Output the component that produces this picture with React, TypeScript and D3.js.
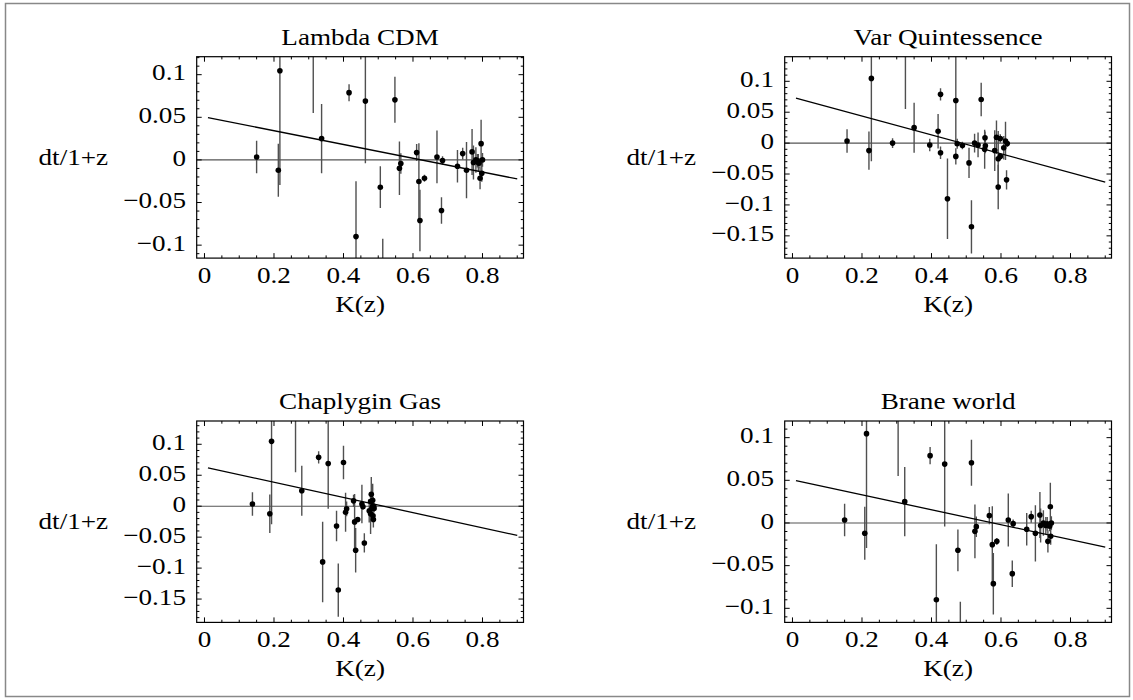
import React from 'react';
import * as d3 from 'd3';

// Panel titles, in reading order
const modelNames = ['Lambda CDM', 'Var Quintessence', 'Chaplygin Gas', 'Brane world'];

// dt/(1+z) measurements and their errors (shared by all four models)
const dtValues = [
  0.0035, -0.0121, 0.1047, 0.16, 0.025, 0.0789, -0.09, 0.069, -0.032, -0.1354,
  0.0705, -0.0098, -0.0043, 0.0086, -0.0254, -0.0711, -0.0215, 0.0035, -0.0008, -0.0594,
  -0.0074, 0.0074, -0.0121, 0.0094, -0.003, 0.0, -0.003, -0.0215, 0.0191, -0.0156,
  0.0, -0.0038, -0.001,
];
const dtErrors = [
  0.019, 0.031, 0.134, 0.105, 0.0405, 0.01, 0.065, 0.073, 0.0245, 0.043,
  0.027, 0.0315, 0.012, 0.01, 0.045, 0.036, 0.004, 0.031, 0.005, 0.0155,
  0.019, 0.007, 0.033, 0.027, 0.02, 0.015, 0.01, 0.013, 0.028, 0.01,
  0.008, 0.006, 0.008,
];

// K(z) of every point for each model
const kLambda = [
  0.15, 0.2125, 0.217, 0.313, 0.337, 0.416, 0.436, 0.463, 0.506, 0.513,
  0.548, 0.561, 0.565, 0.6105, 0.617, 0.62, 0.633, 0.669, 0.685, 0.682,
  0.728, 0.743, 0.754, 0.77, 0.774, 0.781, 0.788, 0.793, 0.796, 0.798,
  0.8, 0.79, 0.785,
];
const kQuint = [
  0.157, 0.22, 0.227, 0.325, 0.35, 0.426, 0.446, 0.47, 0.508, 0.515,
  0.543, 0.553, 0.555, 0.554, 0.592, 0.592, 0.598, 0.613, 0.618, 0.616,
  0.608, 0.598, 0.582, 0.587, 0.534, 0.524, 0.395, 0.47, 0.419, 0.426,
  0.288, 0.489, 0.474,
];
const kChaplygin = [
  0.138, 0.188, 0.193, 0.262, 0.28, 0.3285, 0.34, 0.356, 0.38, 0.385,
  0.4, 0.406, 0.409, 0.429, 0.432, 0.435, 0.441, 0.453, 0.456, 0.46,
  0.474, 0.478, 0.478, 0.484, 0.482, 0.485, 0.486, 0.486, 0.48, 0.485,
  0.487, 0.488, 0.484,
];
const kBrane = [
  0.15, 0.208, 0.213, 0.304, 0.323, 0.396, 0.414, 0.438, 0.476, 0.483,
  0.515, 0.525, 0.529, 0.5665, 0.575, 0.578, 0.588, 0.621, 0.635, 0.6325,
  0.674, 0.687, 0.699, 0.712, 0.714, 0.722, 0.729, 0.735, 0.742, 0.743,
  0.745, 0.74, 0.733,
];
const kByModel = [kLambda, kQuint, kChaplygin, kBrane];

// straight-line fits: intercept, slope, drawn over fitRange
const fitIntercepts = [0.0504, 0.0745, 0.0632, 0.0504];
const fitSlopes = [-0.0808, -0.153, -0.1227, -0.0873];
const fitRange = [0.01, 0.9];

// plot ranges
const xDomain = [-0.0224, 0.918];
const yDomains = [
  [-0.1152, 0.1211],
  [-0.186, 0.1398],
  [-0.1877, 0.1376],
  [-0.1165, 0.1195],
];

// tick labels
const xTickValues = [0, 0.2, 0.4, 0.6, 0.8];
const yTicksNarrow = [-0.1, -0.05, 0, 0.05, 0.1];
const yTicksWide = [-0.15, -0.1, -0.05, 0, 0.05, 0.1];
const yTicksByModel = [yTicksNarrow, yTicksWide, yTicksWide, yTicksNarrow];

const W = 1133;
const H = 700;
const colLefts = [196.7, 784.7];
const rowTops = [56.7, 421];
const frameW = 326.8;
const frameH = 201.4;

const FONT = "'Liberation Serif', 'Times New Roman', Times, serif";

const fmt = (v: number) => (v === 0 ? '0' : String(v).replace('-', '\u2212'));

// Mathematica output is a little stretched sideways, so text gets a horizontal scale
const Label = ({ x, y, anchor = 'middle', children }: { x: number; y: number; anchor?: string; children: React.ReactNode }) => (
  <text
    transform={`translate(${x},${y}) scale(1.18,1)`}
    textAnchor={anchor}
    fontFamily={FONT}
    fontSize={23}
    fill="#000"
  >
    {children}
  </text>
);

const Panel = ({ idx }: { idx: number }) => {
  const left = colLefts[idx % 2];
  const top = rowTops[Math.floor(idx / 2)];
  const right = left + frameW;
  const bottom = top + frameH;

  const x = d3.scaleLinear().domain(xDomain).range([left, right]);
  const y = d3.scaleLinear().domain(yDomains[idx]).range([bottom, top]);

  const ks = kByModel[idx];
  const yTicks = yTicksByModel[idx];

  // minor ticks
  const xMinor = d3.range(0, xDomain[1], 0.05).filter((v) => !xTickValues.some((t) => Math.abs(t - v) < 1e-6));
  const yD = yDomains[idx];
  const yMinor = d3
    .range(Math.ceil(yD[0] / 0.01) * 0.01, yD[1], 0.01)
    .filter((v) => !yTicks.some((t) => Math.abs(t - v) < 1e-6));

  const fitLine = d3
    .line<number>()
    .x((k) => x(k))
    .y((k) => y(fitIntercepts[idx] + fitSlopes[idx] * k));

  const clipId = `clip-${idx}`;
  const major = 5;
  const minor = 2.7;

  return (
    <g>
      <defs>
        <clipPath id={clipId}>
          <rect x={left} y={top} width={frameW} height={frameH} />
        </clipPath>
      </defs>

      <g clipPath={`url(#${clipId})`}>
        <line x1={left} x2={right} y1={y(0)} y2={y(0)} stroke="#555" strokeWidth={1.1} />
        {ks.map((k, i) => (
          <line
            key={`e${i}`}
            x1={x(k)}
            x2={x(k)}
            y1={y(dtValues[i] - dtErrors[i])}
            y2={y(dtValues[i] + dtErrors[i])}
            stroke="#505050"
            strokeWidth={1.4}
          />
        ))}
        <path d={fitLine(fitRange) || ''} fill="none" stroke="#000" strokeWidth={1.3} />
        {ks.map((k, i) => (
          <circle key={`p${i}`} cx={x(k)} cy={y(dtValues[i])} r={2.8} fill="#000" />
        ))}
      </g>

      {/* ticks on all four sides */}
      {xTickValues.map((t) => (
        <g key={`xt${t}`}>
          <line x1={x(t)} x2={x(t)} y1={bottom} y2={bottom - major} stroke="#000" />
          <line x1={x(t)} x2={x(t)} y1={top} y2={top + major} stroke="#000" />
        </g>
      ))}
      {xMinor.map((t) => (
        <g key={`xm${t}`}>
          <line x1={x(t)} x2={x(t)} y1={bottom} y2={bottom - minor} stroke="#000" />
          <line x1={x(t)} x2={x(t)} y1={top} y2={top + minor} stroke="#000" />
        </g>
      ))}
      {yTicks.map((t) => (
        <g key={`yt${t}`}>
          <line x1={left} x2={left + major} y1={y(t)} y2={y(t)} stroke="#000" />
          <line x1={right} x2={right - major} y1={y(t)} y2={y(t)} stroke="#000" />
        </g>
      ))}
      {yMinor.map((t) => (
        <g key={`ym${t}`}>
          <line x1={left} x2={left + minor} y1={y(t)} y2={y(t)} stroke="#000" />
          <line x1={right} x2={right - minor} y1={y(t)} y2={y(t)} stroke="#000" />
        </g>
      ))}

      <rect x={left} y={top} width={frameW} height={frameH} fill="none" stroke="#000" strokeWidth={1.2} />

      {xTickValues.map((t) => (
        <Label key={`xl${t}`} x={x(t)} y={bottom + 24.4}>
          {fmt(t)}
        </Label>
      ))}
      {yTicks.map((t) => (
        <Label key={`yl${t}`} x={left - 10.7} y={y(t) + 5.6} anchor="end">
          {fmt(t)}
        </Label>
      ))}

      <Label x={(left + right) / 2} y={top - 11.7}>
        {modelNames[idx]}
      </Label>
      <Label x={(left + right) / 2} y={bottom + 54}>
        K(z)
      </Label>
      <Label x={left - 123.4} y={(top + bottom) / 2 + 7.5}>
        dt/1+z
      </Label>
    </g>
  );
};

export default function App() {
  return (
    <div style={{ position: 'absolute', left: 0, top: 0 }}>
      <svg width={W} height={H} viewBox={`0 0 ${W} ${H}`} style={{ display: 'block', background: '#fff' }}>
        <rect x={0} y={0} width={W} height={H} fill="#fff" />
        <rect x={5.5} y={3.5} width={1124} height={693} fill="none" stroke="#888" strokeWidth={1.5} />
        {modelNames.map((_, i) => (
          <Panel key={i} idx={i} />
        ))}
      </svg>
    </div>
  );
}
